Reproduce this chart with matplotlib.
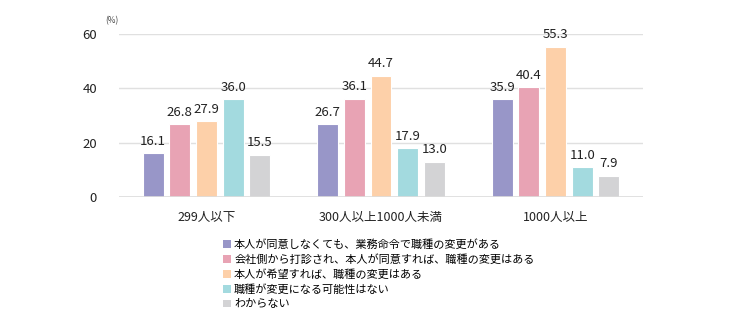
import numpy as np
import matplotlib
matplotlib.use('Agg')
import matplotlib.pyplot as plt
from matplotlib.patches import Patch

plt.rcParams['font.family'] = ['Noto Sans CJK JP', 'DejaVu Sans']

# data
categories = ['299人以下', '300人以上1000人未満', '1000人以上']
series_names = [
    '本人が同意しなくても、業務命令で職種の変更がある',
    '会社側から打診され、本人が同意すれば、職種の変更はある',
    '本人が希望すれば、職種の変更はある',
    '職種が変更になる可能性はない',
    'わからない',
]
values = [
    [16.1, 26.7, 35.9],
    [26.8, 36.1, 40.4],
    [27.9, 44.7, 55.3],
    [36.0, 17.9, 11.0],
    [15.5, 13.0, 7.9],
]
colors = ['#9896C8', '#E8A3B4', '#FDD0A9', '#A3DADF', '#D3D3D5']
yticks = [0, 20, 40, 60]

fig = plt.figure(figsize=(7.5, 3.27), dpi=100)
ax = fig.add_axes([0.159, 0.3976, 0.698, 0.4984])

x = np.arange(len(categories))
width = 0.12
pitch = 0.153
for i, (vals, c) in enumerate(zip(values, colors)):
    pos = x + (i - 2) * pitch
    ax.bar(pos, vals, width=width, color=c, edgecolor='white', linewidth=0.8, zorder=3)
    for p, v in zip(pos, vals):
        ax.text(p, v + 2.0, f'{v:.1f}', ha='center', va='bottom', fontsize=9.5, color='#222222')

ax.set_xlim(-0.5, 2.5)
ax.set_ylim(0, 60)
ax.set_yticks(yticks)
ax.set_yticklabels([str(t) for t in yticks], fontsize=9.5, color='#222222')
ax.set_xticks(x)
ax.set_xticklabels(categories, fontsize=9, color='#222222')
ax.tick_params(axis='x', length=0, pad=10)
ax.tick_params(axis='y', length=0, pad=16)
ax.grid(axis='y', color='#E0E0E0', linewidth=1, zorder=0)
for s in ax.spines.values():
    s.set_visible(False)
ax.axhline(0, color='#DDDDDD', linewidth=1.2, zorder=4)

fig.text(105 / 750, 1 - 21 / 327, '(%)', fontsize=6, color='#444444', va='center', ha='left')

handles = [Patch(facecolor=c, edgecolor='none') for c in colors]
fig.legend(handles, series_names, loc='upper left', bbox_to_anchor=(223 / 750, 1 - 239 / 327),
           frameon=False, fontsize=8, handlelength=0.7, handleheight=0.7, handletextpad=0.3,
           labelspacing=0.38, borderpad=0, borderaxespad=0)

plt.savefig('out.png', dpi=100)
